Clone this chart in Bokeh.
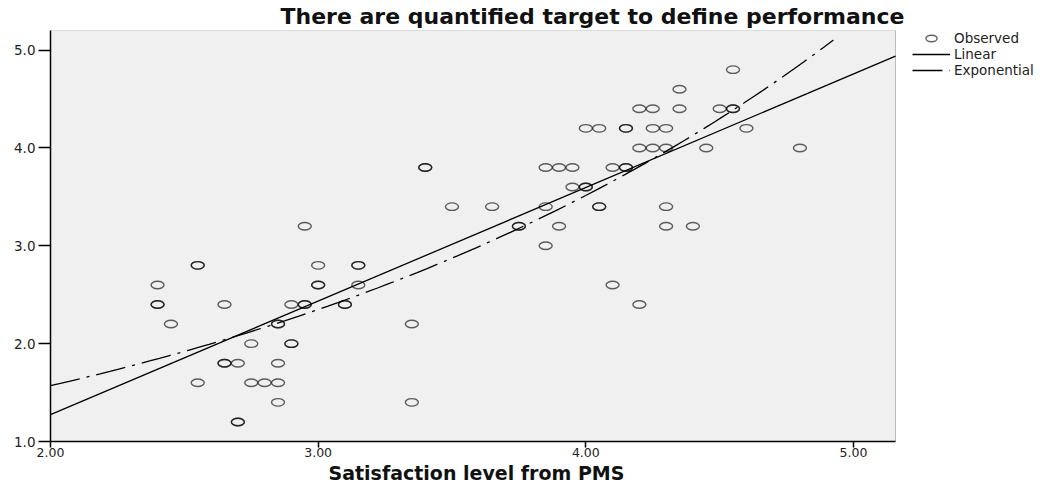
from bokeh.plotting import figure
from bokeh.models import (Range1d, FixedTicker, Legend, LegendItem, NumeralTickFormatter,
                          ColumnDataSource, BoxAnnotation, Title)
from bokeh.embed import file_html
from bokeh.resources import INLINE
import numpy as np

# Observed points (duplicates are repeated, which is why some circles look darker)
x_obs = [2.40, 2.40, 2.40, 2.45, 2.55, 2.55, 2.55, 2.65, 2.65, 2.65,
         2.70, 2.70, 2.70, 2.75, 2.75, 2.80, 2.85, 2.85, 2.85, 2.85,
         2.85, 2.90, 2.90, 2.90, 2.95, 2.95, 2.95, 3.00, 3.00, 3.00,
         3.10, 3.10, 3.15, 3.15, 3.15, 3.35, 3.35, 3.40, 3.40, 3.50,
         3.65, 3.75, 3.75, 3.85, 3.85, 3.85, 3.90, 3.90, 3.95, 3.95,
         4.00, 4.00, 4.00, 4.05, 4.05, 4.05, 4.10, 4.10, 4.15, 4.15,
         4.15, 4.15, 4.20, 4.20, 4.20, 4.25, 4.25, 4.25, 4.30, 4.30,
         4.30, 4.30, 4.35, 4.35, 4.40, 4.45, 4.50, 4.55, 4.55, 4.55,
         4.60, 4.80]
y_obs = [2.6, 2.4, 2.4, 2.2, 2.8, 2.8, 1.6, 2.4, 1.8, 1.8,
         1.8, 1.2, 1.2, 2.0, 1.6, 1.6, 2.2, 2.2, 1.8, 1.6,
         1.4, 2.4, 2.0, 2.0, 3.2, 2.4, 2.4, 2.8, 2.6, 2.6,
         2.4, 2.4, 2.8, 2.8, 2.6, 2.2, 1.4, 3.8, 3.8, 3.4,
         3.4, 3.2, 3.2, 3.8, 3.4, 3.0, 3.8, 3.2, 3.8, 3.6,
         4.2, 3.6, 3.6, 4.2, 3.4, 3.4, 3.8, 2.6, 4.2, 4.2,
         3.8, 3.8, 4.4, 4.0, 2.4, 4.4, 4.2, 4.0, 4.2, 4.0,
         3.4, 3.2, 4.6, 4.4, 3.2, 4.0, 4.4, 4.4, 4.4, 4.8,
         4.2, 4.0]

# Fitted models
lin_intercept = -1.047
lin_slope = 1.1606
exp_a = 0.7014
exp_b = 0.4029
exp_x_start, exp_x_end = 2.0, 4.925

x_ticks = [2.0, 3.0, 4.0, 5.0]
y_ticks = [1.0, 2.0, 3.0, 4.0, 5.0]
x_lo, x_hi = 2.0, 5.157
y_lo, y_hi = 1.0, 5.2

title_text = "There are quantified target to define performance"
x_title = "Satisfaction level from PMS"
legend_labels = ["Observed", "Linear", "Exponential"]

# layout: the canvas frame spans the plot box plus the legend area on its right
W, H = 1045, 483
left_border, bottom_border, top_border = 50, 42, 30
plot_box_px = 845
frame_px = W - left_border
x_view_hi = x_lo + (x_hi - x_lo) * frame_px / plot_box_px

p = figure(width=W, height=H, output_backend="svg", toolbar_location=None,
           x_range=Range1d(x_lo, x_view_hi), y_range=Range1d(y_lo, y_hi),
           min_border_left=left_border, min_border_right=0, min_border_top=top_border,
           min_border_bottom=bottom_border, title=title_text)

p.background_fill_color = "white"
p.border_fill_color = "white"
p.outline_line_color = None
p.xgrid.visible = False
p.ygrid.visible = False

plot_box = BoxAnnotation(left=x_lo, right=x_hi, bottom=y_lo, top=y_hi,
                         fill_color="#f0f0f0", fill_alpha=1.0,
                         line_color="#333333", line_width=1, level="underlay")
p.add_layout(plot_box)

p.title.align = "left"
p.title.offset = 230
p.title.vertical_align = "top"
p.title.text_font = "DejaVu Sans"
p.title.text_font_style = "bold"
p.title.text_font_size = "22px"
p.title.text_color = "#111111"
p.title.standoff = 0

for ax in (p.xaxis[0], p.yaxis[0]):
    ax.axis_line_color = "black"
    ax.axis_line_width = 1.5
    ax.major_tick_line_color = "black"
    ax.major_tick_line_width = 1.5
    ax.minor_tick_line_color = None
    ax.major_tick_in = 0
    ax.major_label_text_font = "DejaVu Sans"
    ax.major_label_text_color = "#222222"

p.xaxis[0].bounds = (x_lo, x_hi)
p.xaxis[0].ticker = FixedTicker(ticks=x_ticks, minor_ticks=[])
p.yaxis[0].ticker = FixedTicker(ticks=y_ticks, minor_ticks=[])
p.xaxis[0].formatter = NumeralTickFormatter(format="0.00")
p.yaxis[0].formatter = NumeralTickFormatter(format="0.0")
p.xaxis[0].major_tick_out = 6
p.yaxis[0].major_tick_out = 12
p.xaxis[0].major_label_standoff = 0
p.yaxis[0].major_label_standoff = 3
p.xaxis[0].major_label_text_font_size = "12.5px"
p.yaxis[0].major_label_text_font_size = "13.5px"

x_label = Title(text=x_title, align="left", offset=278, standoff=0,
                text_font="DejaVu Sans", text_font_style="bold", text_font_size="19px",
                text_color="#111111")
p.add_layout(x_label, "below")

src = ColumnDataSource(dict(x=x_obs, y=y_obs))
r_obs = p.ellipse(x="x", y="y", width=13, height=7.5, width_units="screen", height_units="screen",
                  source=src, fill_color=None, line_color="black", line_alpha=0.62, line_width=1.4)

lin_x = [x_lo, x_hi]
lin_y = [lin_intercept + lin_slope * v for v in lin_x]
r_lin = p.line(lin_x, lin_y, line_color="black", line_width=1.3)

exp_x = np.linspace(exp_x_start, exp_x_end, 80)
exp_y = exp_a * np.exp(exp_b * exp_x)
r_exp = p.line(exp_x, exp_y, line_color="black", line_width=1.3, line_dash="30 7 3 7")

legend = Legend(items=[LegendItem(label=legend_labels[0], renderers=[r_obs]),
                       LegendItem(label=legend_labels[1], renderers=[r_lin]),
                       LegendItem(label=legend_labels[2], renderers=[r_exp])],
                location="top_right", padding=0, margin=0, spacing=0,
                glyph_width=38, glyph_height=14, label_height=14, label_width=91,
                label_standoff=4,
                label_text_font="DejaVu Sans", label_text_font_size="13.5px",
                label_text_color="#222222",
                background_fill_alpha=0, border_line_alpha=0)
p.add_layout(legend)

open("out.html", "w").write(file_html(p, INLINE))
